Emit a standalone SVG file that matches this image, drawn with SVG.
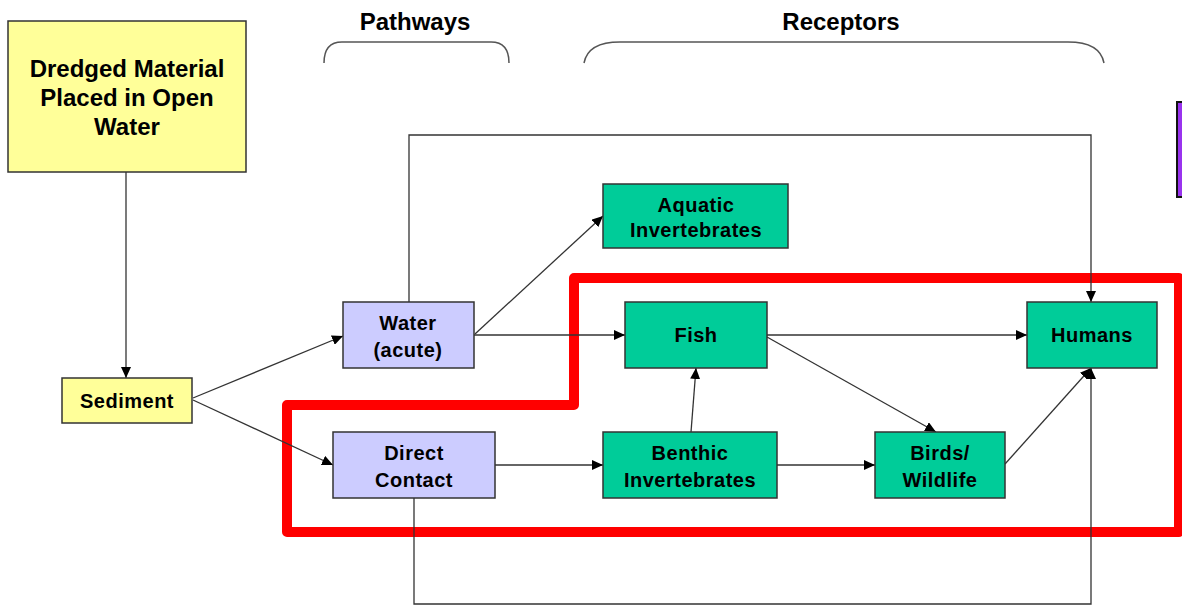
<svg xmlns="http://www.w3.org/2000/svg" width="1182" height="609" viewBox="0 0 1182 609">
<defs>
<marker id="arr" markerUnits="userSpaceOnUse" markerWidth="12" markerHeight="10" refX="11" refY="5" orient="auto">
<path d="M0,0 L11,5 L0,10 Z" fill="#000"/>
</marker>
</defs>
<style>
text{font-family:"Liberation Sans",Arial,sans-serif;font-weight:bold;fill:#000;text-anchor:middle}
.hdr{font-size:24px}
.big{font-size:24px}
.lbl{font-size:20px;letter-spacing:0.5px}
.yel{fill:#FFFF99;stroke:#333;stroke-width:1.5}
.blu{fill:#CCCCFF;stroke:#333;stroke-width:1.5}
.grn{fill:#00CC99;stroke:#333;stroke-width:1.5}
.con{fill:none;stroke:#333;stroke-width:1.3}
.brace{fill:none;stroke:#555;stroke-width:1.5}
</style>
<rect width="1182" height="609" fill="#fff"/>

<g id="headers">
<text class="hdr" x="415" y="30">Pathways</text>
<path class="brace" d="M324,63 Q324,42 342,42 L491,42 Q509,42 509,63"/>
<text class="hdr" x="841" y="30">Receptors</text>
<path class="brace" d="M584,63 Q588,42 620,42 L1068,42 Q1100,42 1104,63"/>
</g>

<g id="highlight">
<path d="M287,405 L574,405 L574,278 L1179,278 L1179,532 L287,532 Z" fill="none" stroke="#FF0000" stroke-width="10" stroke-linejoin="round"/>
</g>

<g id="connectors">
<line class="con" x1="126" y1="172" x2="126" y2="378" marker-end="url(#arr)"/>
<line class="con" x1="193" y1="398" x2="343" y2="336" marker-end="url(#arr)"/>
<line class="con" x1="193" y1="400" x2="333" y2="465" marker-end="url(#arr)"/>
<line class="con" x1="475" y1="334" x2="603" y2="216" marker-end="url(#arr)"/>
<line class="con" x1="474" y1="335" x2="625" y2="335" marker-end="url(#arr)"/>
<line class="con" x1="767" y1="335" x2="1027" y2="335" marker-end="url(#arr)"/>
<line class="con" x1="767" y1="337" x2="936" y2="432" marker-end="url(#arr)"/>
<line class="con" x1="691" y1="432" x2="696" y2="368" marker-end="url(#arr)"/>
<line class="con" x1="495" y1="465" x2="603" y2="465" marker-end="url(#arr)"/>
<line class="con" x1="777" y1="465" x2="875" y2="465" marker-end="url(#arr)"/>
<line class="con" x1="1005" y1="464" x2="1091" y2="368" marker-end="url(#arr)"/>
<polyline class="con" points="409,302 409,135 1091,135 1091,302" marker-end="url(#arr)"/>
<polyline class="con" points="414,498 414,604 1091,604 1091,368" marker-end="url(#arr)"/>
</g>

<g id="dredged">
<rect class="yel" x="8" y="21" width="238" height="151"/>
<text class="big" x="127" y="77">Dredged Material</text>
<text class="big" x="127" y="106">Placed in Open</text>
<text class="big" x="127" y="135">Water</text>
</g>

<g id="sediment">
<rect class="yel" x="62" y="378" width="130" height="45"/>
<text class="lbl" x="127" y="408">Sediment</text>
</g>

<g id="water">
<rect class="blu" x="343" y="302" width="131" height="66"/>
<text class="lbl" x="408" y="330">Water</text>
<text class="lbl" x="408" y="357">(acute)</text>
</g>

<g id="direct">
<rect class="blu" x="333" y="432" width="162" height="66"/>
<text class="lbl" x="414" y="460">Direct</text>
<text class="lbl" x="414" y="487">Contact</text>
</g>

<g id="aquatic">
<rect class="grn" x="603" y="184" width="185" height="64"/>
<text class="lbl" x="696" y="212">Aquatic</text>
<text class="lbl" x="696" y="237">Invertebrates</text>
</g>

<g id="fish">
<rect class="grn" x="625" y="302" width="142" height="66"/>
<text class="lbl" x="696" y="342">Fish</text>
</g>

<g id="humans">
<rect class="grn" x="1027" y="302" width="130" height="66"/>
<text class="lbl" x="1092" y="342">Humans</text>
</g>

<g id="benthic">
<rect class="grn" x="603" y="432" width="174" height="66"/>
<text class="lbl" x="690" y="460">Benthic</text>
<text class="lbl" x="690" y="487">Invertebrates</text>
</g>

<g id="birds">
<rect class="grn" x="875" y="432" width="130" height="66"/>
<text class="lbl" x="940" y="460">Birds/</text>
<text class="lbl" x="940" y="487">Wildlife</text>
</g>

<g id="side-tab">
<rect x="1177" y="102" width="10" height="95" fill="#9933EE" stroke="#111" stroke-width="2"/>
</g>
</svg>
